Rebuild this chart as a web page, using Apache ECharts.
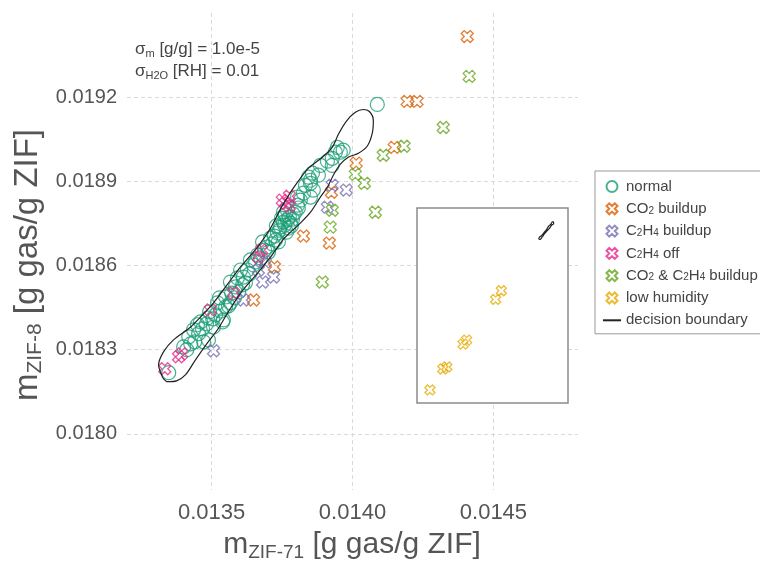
<!DOCTYPE html>
<html>
<head>
<meta charset="utf-8">
<script src="https://cdn.jsdelivr.net/npm/echarts@6/dist/echarts.min.js"></script>
<style>html,body{margin:0;padding:0;background:#fff}#c{width:760px;height:561px}</style>
</head>
<body>
<div id="c"></div>
<script>
// ---- data ----
const xTicks = [0.0135, 0.0140, 0.0145];
const yTicks = [0.0180, 0.0183, 0.0186, 0.0189, 0.0192];

const normal = [
[0.013348,0.018218],[0.013412,0.018300],[0.013426,0.018321],[0.013440,0.018328],[0.013419,0.018346],
[0.013454,0.018357],[0.013472,0.018328],[0.013489,0.018335],[0.013450,0.018389],[0.013468,0.018374],
[0.013461,0.018399],[0.013482,0.018392],[0.013507,0.018381],[0.013493,0.018435],[0.013514,0.018424],
[0.013532,0.018438],[0.013550,0.018453],[0.013567,0.018467],[0.013542,0.018406],[0.013560,0.018456],
[0.013521,0.018467],[0.013504,0.018410],[0.013539,0.018399],[0.013571,0.018502],[0.013585,0.018524],
[0.013567,0.018541],[0.013592,0.018556],[0.013613,0.018559],[0.013603,0.018584],[0.013627,0.018584],
[0.013638,0.018620],[0.013663,0.018637],[0.013649,0.018602],[0.013698,0.018666],[0.013709,0.018698],
[0.013734,0.018716],[0.013737,0.018684],[0.013744,0.018737],[0.013755,0.018755],[0.013769,0.018762],
[0.013780,0.018751],[0.013723,0.018705],[0.013702,0.018648],[0.013620,0.018538],[0.013596,0.018506],
[0.013550,0.018488],[0.013681,0.018684],[0.013748,0.018769],[0.013762,0.018780],[0.013776,0.018773],
[0.013787,0.018765],[0.013759,0.018744],[0.013773,0.018733],[0.013783,0.018741],[0.013741,0.018726],
[0.013766,0.018719],[0.013755,0.018790],[0.013769,0.018797],[0.013805,0.018844],[0.013826,0.018858],
[0.013851,0.018893],[0.013815,0.018833],[0.013851,0.018844],[0.013805,0.018815],[0.013808,0.018805],
[0.013833,0.018886],[0.013851,0.018904],[0.013844,0.018915],[0.013861,0.018869],[0.013858,0.018929],
[0.013886,0.018957],[0.013928,0.018957],[0.013928,0.018982],[0.013946,0.019021],[0.013957,0.019004],
[0.013967,0.019011],[0.013939,0.019004],[0.013797,0.018790],[0.014088,0.019174],[0.013674,0.018627],
[0.013688,0.018655],[0.013656,0.018613],[0.013716,0.018677],[0.013635,0.018570],[0.013610,0.018531],
[0.013581,0.018485],[0.013528,0.018485],[0.013486,0.018413],[0.013436,0.018371],[0.013401,0.018310],
[0.013730,0.018741],[0.013790,0.018783],[0.013879,0.018922],[0.013911,0.018972],[0.013727,0.018691]
];
const co2Buildup = [
[0.014407,0.019416],[0.014194,0.019185],[0.014229,0.019185],[0.014148,0.019021],[0.014013,0.018965],
[0.013925,0.018861],[0.013826,0.018705],[0.013918,0.018680],[0.013723,0.018595],[0.013649,0.018477]
];
const c2h4Buildup = [
[0.013928,0.018886],[0.013978,0.018869],[0.013911,0.018808],[0.013691,0.018613],[0.013720,0.018559],
[0.013681,0.018541],[0.013613,0.018477],[0.013507,0.018296],[0.013666,0.018584]
];
const c2h4Off = [
[0.013334,0.018232],[0.013383,0.018275],[0.013394,0.018285],[0.013496,0.018442],[0.013578,0.018502],
[0.013666,0.018630],[0.013677,0.018655],[0.013751,0.018833],[0.013776,0.018847],[0.013776,0.018812],
[0.013762,0.018822]
];
const co2C2h4Buildup = [
[0.014414,0.019274],[0.014322,0.019092],[0.014183,0.019025],[0.014109,0.018993],[0.014010,0.018925],
[0.014042,0.018893],[0.014081,0.018790],[0.013928,0.018797],[0.013921,0.018737],[0.013893,0.018541]
];
// low humidity points live in the inset (wider scale)
const lowHumidity = [
[0.00776,0.01001],[0.00842,0.01115],[0.00862,0.01126],[0.00945,0.01250],[0.00963,0.01272],
[0.01111,0.01493],[0.01140,0.01540]
];
const boundary = [
[0.013327,0.018200],[0.013312,0.018246],[0.013330,0.018293],[0.013365,0.018335],[0.013426,0.018381],
[0.013468,0.018424],[0.013507,0.018467],[0.013557,0.018534],[0.013603,0.018595],[0.013663,0.018666],
[0.013709,0.018733],[0.013748,0.018808],[0.013790,0.018876],[0.013815,0.018911],[0.013844,0.018947],
[0.013893,0.018986],[0.013928,0.019021],[0.013950,0.019068],[0.013978,0.019114],[0.014010,0.019146],
[0.014038,0.019156],[0.014060,0.019149],[0.014074,0.019117],[0.014070,0.019071],[0.014052,0.019025],
[0.014021,0.019000],[0.013985,0.018986],[0.013957,0.018961],[0.013932,0.018922],[0.013911,0.018879],
[0.013886,0.018844],[0.013851,0.018790],[0.013815,0.018751],[0.013780,0.018719],[0.013755,0.018694],
[0.013709,0.018630],[0.013663,0.018573],[0.013603,0.018502],[0.013557,0.018431],[0.013521,0.018371],
[0.013486,0.018325],[0.013443,0.018264],[0.013408,0.018211],[0.013376,0.018189],[0.013344,0.018186],
[0.013327,0.018200]
];

// ---- styling ----
const F = "'Liberation Sans', Arial, sans-serif";
const CROSS = 'path://M2,-4L4,-2L2,0L4,2L2,4L0,2L-2,4L-4,2L-2,0L-4,-2L-2,-4L0,-2Z';
const C = {normal:'#1b9e77', co2:'#d95f02', c2h4:'#7570b3', off:'#e7298a', both:'#66a61e', low:'#e6ab02'};
const gridLine = {show:true, lineStyle:{color:'#d9d9d9', type:[4,3], width:1}};

function crossSeries(name, data, color, xi, size) {
  return {
    name: name, type: 'scatter', data: data, xAxisIndex: xi, yAxisIndex: xi,
    symbol: CROSS, symbolKeepAspect: true, symbolSize: size,
    itemStyle: {color: 'rgba(0,0,0,0)', borderColor: color, borderWidth: 1.3},
    z: xi ? 6 : 3, silent: true
  };
}

const legendRich = {
  'normal': 'normal',
  'CO2 buildup': '{a|CO}{s|2}{a| buildup}',
  'C2H4 buildup': '{a|C}{s|2}{a|H}{s|4}{a| buildup}',
  'C2H4 off': '{a|C}{s|2}{a|H}{s|4}{a| off}',
  'CO2 & C2H4 buildup': '{a|CO}{s|2}{a| & C}{s|2}{a|H}{s|4}{a| buildup}',
  'low humidity': 'low humidity',
  'decision boundary': 'decision boundary'
};

const chart = echarts.init(document.getElementById('c'), null, {renderer: 'canvas'});
chart.setOption({
  animation: false,
  backgroundColor: '#fff',
  textStyle: {fontFamily: F},
  grid: [
    {left: 127, right: 182, top: 13, bottom: 71, show: false},
    {left: 417, top: 208, width: 151, height: 195, show: true, z: 3,
     backgroundColor: '#fff', borderColor: '#8c8c8c', borderWidth: 1.5}
  ],
  xAxis: [
    {type: 'value', gridIndex: 0, min: 0.0132, max: 0.0148,
     axisLine: {show: false}, axisTick: {show: false, customValues: xTicks},
     axisLabel: {customValues: xTicks, formatter: v => v.toFixed(4), fontSize: 22, color: '#555', margin: 12, fontFamily: F},
     splitLine: gridLine},
    {type: 'value', gridIndex: 1, min: 0.0071, max: 0.0148, show: false, splitLine: {show: false}}
  ],
  yAxis: [
    {type: 'value', gridIndex: 0, min: 0.0178, max: 0.0195,
     axisLine: {show: false}, axisTick: {show: false, customValues: yTicks},
     axisLabel: {customValues: yTicks, formatter: v => v.toFixed(4), fontSize: 20, color: '#555', margin: 10, fontFamily: F},
     splitLine: gridLine},
    {type: 'value', gridIndex: 1, min: 0.0093, max: 0.0199, show: false, splitLine: {show: false}}
  ],
  legend: {
    orient: 'vertical', left: 595, top: 171,
    padding: [8, 12, 6, 7], itemGap: 7.3, itemWidth: 18, itemHeight: 11,
    borderColor: '#999', borderWidth: 1, backgroundColor: '#fff',
    data: Object.keys(legendRich),
    formatter: n => legendRich[n],
    textStyle: {fontSize: 15, color: '#444', lineHeight: 11, fontFamily: F,
      rich: {a: {fontSize: 15, color: '#444', fontFamily: F, lineHeight: 14},
             s: {fontSize: 10, color: '#444', fontFamily: F, lineHeight: 8, verticalAlign: 'bottom'}}}
  },
  graphic: [
    {type: 'text', x: 135, y: 49, z: 10, style: {
      text: '{a|σ}{s|m}{a| [g/g] = 1.0e-5}', verticalAlign: 'middle',
      rich: {a: {fontSize: 17, fill: '#444', lineHeight: 20, fontFamily: F},
             s: {fontSize: 11, fill: '#444', lineHeight: 9, verticalAlign: 'bottom', fontFamily: F}}}},
    {type: 'text', x: 135, y: 71, z: 10, style: {
      text: '{a|σ}{s|H2O}{a| [RH] = 0.01}', verticalAlign: 'middle',
      rich: {a: {fontSize: 17, fill: '#444', lineHeight: 20, fontFamily: F},
             s: {fontSize: 11, fill: '#444', lineHeight: 9, verticalAlign: 'bottom', fontFamily: F}}}},
    {type: 'text', x: 352, y: 545, z: 10, style: {
      text: '{a|m}{s|ZIF-71}{a| [g gas/g ZIF]}', align: 'center', verticalAlign: 'middle',
      rich: {a: {fontSize: 30, fill: '#555', lineHeight: 34, fontFamily: F},
             s: {fontSize: 19, fill: '#555', lineHeight: 15, verticalAlign: 'bottom', fontFamily: F}}}},
    {type: 'text', x: 28, y: 265, rotation: Math.PI / 2, z: 10, style: {
      text: '{a|m}{s|ZIF-8}{a| [g gas/g ZIF]}', align: 'center', verticalAlign: 'middle',
      rich: {a: {fontSize: 33, fill: '#555', lineHeight: 36, fontFamily: F},
             s: {fontSize: 21, fill: '#555', lineHeight: 16, verticalAlign: 'bottom', fontFamily: F}}}}
  ],
  series: [
    {name: 'decision boundary', type: 'line', data: boundary, xAxisIndex: 0, yAxisIndex: 0,
     symbol: 'none', smooth: 0.3, lineStyle: {color: '#222', width: 1.2},
     itemStyle: {color: '#222', opacity: 0}, z: 4, silent: true},
    {name: 'normal', type: 'scatter', data: normal, xAxisIndex: 0, yAxisIndex: 0,
     symbol: 'circle', symbolSize: 14,
     itemStyle: {color: 'rgba(0,0,0,0)', borderColor: C.normal, borderWidth: 1.2}, z: 3, silent: true},
    crossSeries('CO2 buildup', co2Buildup, C.co2, 0, 12),
    crossSeries('C2H4 buildup', c2h4Buildup, C.c2h4, 0, 12),
    crossSeries('C2H4 off', c2h4Off, C.off, 0, 12),
    crossSeries('CO2 & C2H4 buildup', co2C2h4Buildup, C.both, 0, 12),
    crossSeries('low humidity', lowHumidity, C.low, 1, 10),
    {name: 'decision boundary', type: 'line', data: boundary, xAxisIndex: 1, yAxisIndex: 1,
     symbol: 'none', smooth: 0.3, lineStyle: {color: '#222', width: 1.2},
     itemStyle: {color: '#222', opacity: 0}, z: 6, silent: true}
  ]
});
</script>
</body>
</html>
